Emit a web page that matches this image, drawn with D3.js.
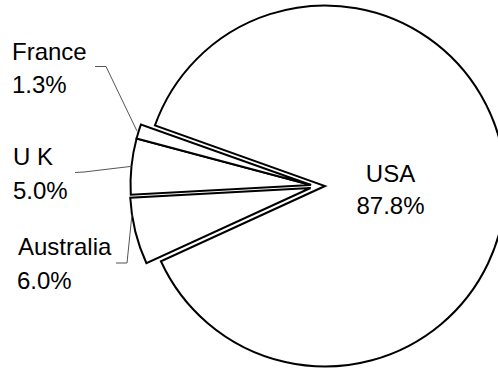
<!DOCTYPE html>
<html>
<head>
<meta charset="utf-8">
<script src="https://cdn.jsdelivr.net/npm/d3@7/dist/d3.min.js"></script>
<style>
  html, body { margin: 0; padding: 0; background: #fff; }
  svg { display: block; }
  text { font-family: "Liberation Sans", Arial, sans-serif; font-size: 24px; fill: #000; }
</style>
</head>
<body>
<script>
// Share of total, by country
const categories = ["USA", "Australia", "U K", "France"];
const shares = [87.8, 6.0, 5.0, 1.3];
const shareLabels = ["87.8%", "6.0%", "5.0%", "1.3%"];

const W = 498, H = 370;
const cx = 325, cy = 186, R = 180.5;
const startDeg = 289.6;        // USA slice begins just above the left horizontal
const explodeX = -14;          // smaller slices pulled out to the left

const svg = d3.select("body").append("svg")
  .attr("width", W).attr("height", H);

const pie = d3.pie()
  .sort(null)
  .value(d => d)
  .startAngle(startDeg * Math.PI / 180)
  .endAngle(startDeg * Math.PI / 180 + 2 * Math.PI);

const arcs = pie(shares);
const arc = d3.arc().innerRadius(0).outerRadius(R);

// per-slice placement: USA stays at the centre, the rest share an offset
const nudge = { "Australia": [-0.5, 2], "U K": [0, -1], "France": [0, -1] };
function offsetOf(i) {
  if (i === 0) return [0, 0];
  const n = nudge[categories[i]] || [0, 0];
  return [explodeX + n[0], n[1]];
}

const g = svg.append("g").attr("transform", `translate(${cx},${cy})`);

g.selectAll("path.slice")
  .data(arcs)
  .join("path")
  .attr("class", "slice")
  .attr("transform", (d, i) => `translate(${offsetOf(i)[0]},${offsetOf(i)[1]})`)
  .attr("d", arc)
  .attr("fill", "#fff")
  .attr("stroke", "#000")
  .attr("stroke-width", 2)
  .attr("stroke-linejoin", "miter");

// USA label inside its slice
g.append("text")
  .attr("x", 390.5 - cx).attr("y", 181.5 - cy)
  .attr("text-anchor", "middle")
  .text(categories[0]);
g.append("text")
  .attr("x", 390.5 - cx).attr("y", 213.5 - cy)
  .attr("text-anchor", "middle")
  .text(shareLabels[0]);

// Outside labels with leader lines for the small slices
const outside = [
  { i: 3, x: 12,   y: 59.5,  elbow: [[95, 66.5], [106, 66.5]], rr: 1.01 },
  { i: 2, x: 13,   y: 165,   elbow: [[75, 172.5], [84, 172]], rr: 1.0 },
  { i: 1, x: 18,   y: 255,   elbow: [[116, 263], [127, 263]], rr: 1.0 }
];

outside.forEach(o => {
  const a = arcs[o.i];
  const mid = (a.startAngle + a.endAngle) / 2;
  const off = offsetOf(o.i);
  let ang = mid;
  if (categories[o.i] === "Australia") ang = a.endAngle - (a.endAngle - a.startAngle) * 0.25;
  const ex = cx + off[0] + R * o.rr * Math.sin(ang);
  const ey = cy + off[1] - R * o.rr * Math.cos(ang);
  const pts = o.elbow.concat([[ex, ey]]);
  svg.append("path")
    .attr("d", d3.line()(pts))
    .attr("fill", "none")
    .attr("stroke", "#555")
    .attr("stroke-width", 1);

  svg.append("text").attr("x", o.x).attr("y", o.y).text(categories[o.i]);
  svg.append("text").attr("x", o.x - (o.i === 1 ? 1 : 0)).attr("y", o.y + 33.5).text(shareLabels[o.i]);
});
</script>
</body>
</html>
